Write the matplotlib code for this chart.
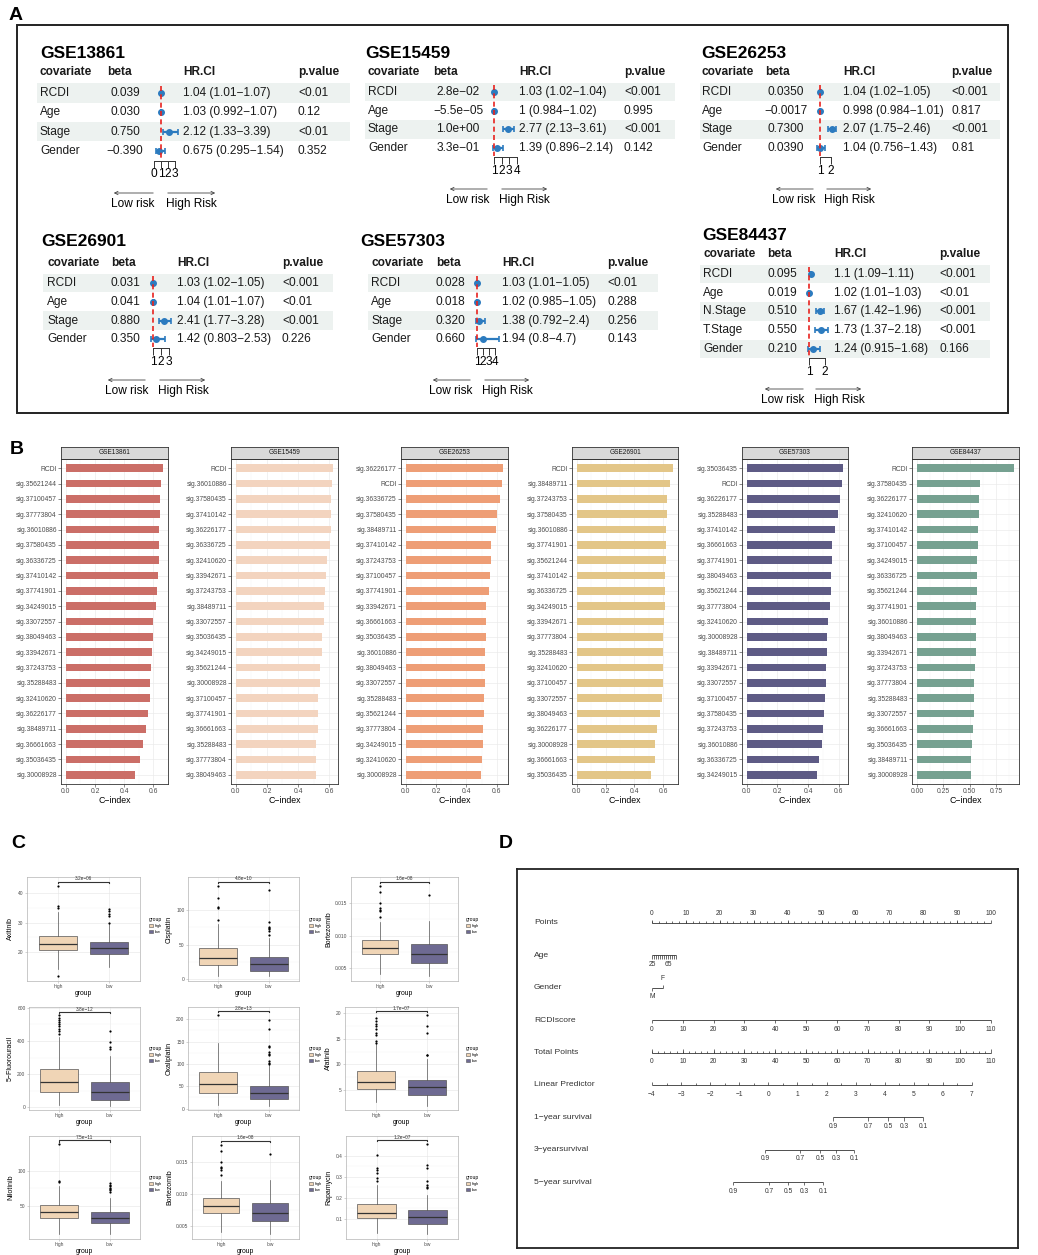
import numpy as np
import matplotlib.pyplot as plt
from matplotlib.patches import Rectangle, Patch, FancyArrowPatch

plt.rcParams['font.family'] = ['Liberation Sans', 'DejaVu Sans']

# ---------------- Panel A: Cox multivariado por cohorte ----------------
cov_13861 = ["RCDI", "Age", "Stage", "Gender"]
beta_13861 = ["0.039", "0.030", "0.750", "−0.390"]
hr_13861 = [1.04, 1.03, 2.12, 0.675]
lo_13861 = [1.01, 0.992, 1.33, 0.295]
hi_13861 = [1.07, 1.07, 3.39, 1.54]
p_13861 = ["<0.01", "0.12", "<0.01", "0.352"]
ticks_13861 = [0, 1, 2, 3]

cov_15459 = ["RCDI", "Age", "Stage", "Gender"]
beta_15459 = ["2.8e−02", "−5.5e−05", "1.0e+00", "3.3e−01"]
hr_15459 = [1.03, 1, 2.77, 1.39]
lo_15459 = [1.02, 0.984, 2.13, 0.896]
hi_15459 = [1.04, 1.02, 3.61, 2.14]
p_15459 = ["<0.001", "0.995", "<0.001", "0.142"]
ticks_15459 = [1, 2, 3, 4]

cov_26253 = ["RCDI", "Age", "Stage", "Gender"]
beta_26253 = ["0.0350", "−0.0017", "0.7300", "0.0390"]
hr_26253 = [1.04, 0.998, 2.07, 1.04]
lo_26253 = [1.02, 0.984, 1.75, 0.756]
hi_26253 = [1.05, 1.01, 2.46, 1.43]
p_26253 = ["<0.001", "0.817", "<0.001", "0.81"]
ticks_26253 = [1, 2]

cov_26901 = ["RCDI", "Age", "Stage", "Gender"]
beta_26901 = ["0.031", "0.041", "0.880", "0.350"]
hr_26901 = [1.03, 1.04, 2.41, 1.42]
lo_26901 = [1.02, 1.01, 1.77, 0.803]
hi_26901 = [1.05, 1.07, 3.28, 2.53]
p_26901 = ["<0.001", "<0.01", "<0.001", "0.226"]
ticks_26901 = [1, 2, 3]

cov_57303 = ["RCDI", "Age", "Stage", "Gender"]
beta_57303 = ["0.028", "0.018", "0.320", "0.660"]
hr_57303 = [1.03, 1.02, 1.38, 1.94]
lo_57303 = [1.01, 0.985, 0.792, 0.8]
hi_57303 = [1.05, 1.05, 2.4, 4.7]
p_57303 = ["<0.01", "0.288", "0.256", "0.143"]
ticks_57303 = [1, 2, 3, 4]

cov_84437 = ["RCDI", "Age", "N.Stage", "T.Stage", "Gender"]
beta_84437 = ["0.095", "0.019", "0.510", "0.550", "0.210"]
hr_84437 = [1.1, 1.02, 1.67, 1.73, 1.24]
lo_84437 = [1.09, 1.01, 1.42, 1.37, 0.915]
hi_84437 = [1.11, 1.03, 1.96, 2.18, 1.68]
p_84437 = ["<0.001", "<0.01", "<0.001", "<0.001", "0.166"]
ticks_84437 = [1, 2]

# ---------------- Panel B: C-index por cohorte ----------------
etq_b1 = ["RCDI", "sig.35621244", "sig.37100457", "sig.37773804", "sig.36010886", "sig.37580435",
          "sig.36336725", "sig.37410142", "sig.37741901", "sig.34249015", "sig.33072557", "sig.38049463",
          "sig.33942671", "sig.37243753", "sig.35288483", "sig.32410620", "sig.36226177", "sig.38489711",
          "sig.36661663", "sig.35036435", "sig.30008928"]
cidx_b1 = [0.668, 0.653, 0.648, 0.646, 0.643, 0.639, 0.637, 0.634, 0.627, 0.618, 0.600, 0.595,
           0.591, 0.582, 0.577, 0.577, 0.561, 0.550, 0.529, 0.511, 0.472]

etq_b2 = ["RCDI", "sig.36010886", "sig.37580435", "sig.37410142", "sig.36226177", "sig.36336725",
          "sig.32410620", "sig.33942671", "sig.37243753", "sig.38489711", "sig.33072557", "sig.35036435",
          "sig.34249015", "sig.35621244", "sig.30008928", "sig.37100457", "sig.37741901", "sig.36661663",
          "sig.35288483", "sig.37773804", "sig.38049463"]
cidx_b2 = [0.626, 0.621, 0.613, 0.613, 0.613, 0.609, 0.585, 0.581, 0.572, 0.570, 0.568, 0.553,
           0.553, 0.544, 0.540, 0.531, 0.529, 0.529, 0.516, 0.516, 0.514]

etq_b3 = ["sig.36226177", "RCDI", "sig.36336725", "sig.37580435", "sig.38489711", "sig.37410142",
          "sig.37243753", "sig.37100457", "sig.37741901", "sig.33942671", "sig.36661663", "sig.35036435",
          "sig.36010886", "sig.38049463", "sig.33072557", "sig.35288483", "sig.35621244", "sig.37773804",
          "sig.34249015", "sig.32410620", "sig.30008928"]
cidx_b3 = [0.642, 0.637, 0.618, 0.604, 0.596, 0.563, 0.560, 0.554, 0.547, 0.532, 0.530, 0.527,
           0.525, 0.521, 0.519, 0.516, 0.514, 0.510, 0.508, 0.503, 0.499]

etq_b4 = ["RCDI", "sig.38489711", "sig.37243753", "sig.37580435", "sig.36010886", "sig.37741901",
          "sig.35621244", "sig.37410142", "sig.36336725", "sig.34249015", "sig.33942671", "sig.37773804",
          "sig.35288483", "sig.32410620", "sig.37100457", "sig.33072557", "sig.38049463", "sig.36226177",
          "sig.30008928", "sig.36661663", "sig.35036435"]
cidx_b4 = [0.671, 0.648, 0.630, 0.627, 0.621, 0.618, 0.618, 0.616, 0.614, 0.611, 0.609, 0.602,
           0.600, 0.600, 0.598, 0.595, 0.582, 0.561, 0.547, 0.545, 0.520]

etq_b5 = ["sig.35036435", "RCDI", "sig.36226177", "sig.35288483", "sig.37410142", "sig.36661663",
          "sig.37741901", "sig.38049463", "sig.35621244", "sig.37773804", "sig.32410620", "sig.30008928",
          "sig.38489711", "sig.33942671", "sig.33072557", "sig.37100457", "sig.37580435", "sig.37243753",
          "sig.36010886", "sig.36336725", "sig.34249015"]
cidx_b5 = [0.630, 0.622, 0.607, 0.594, 0.574, 0.557, 0.557, 0.553, 0.553, 0.542, 0.533, 0.527,
           0.525, 0.518, 0.516, 0.512, 0.507, 0.496, 0.494, 0.471, 0.460]

etq_b6 = ["RCDI", "sig.37580435", "sig.36226177", "sig.32410620", "sig.37410142", "sig.37100457",
          "sig.34249015", "sig.36336725", "sig.35621244", "sig.37741901", "sig.36010886", "sig.38049463",
          "sig.33942671", "sig.37243753", "sig.37773804", "sig.35288483", "sig.33072557", "sig.36661663",
          "sig.35036435", "sig.38489711", "sig.30008928"]
cidx_b6 = [0.919, 0.593, 0.590, 0.584, 0.580, 0.574, 0.571, 0.565, 0.565, 0.562, 0.562, 0.558,
           0.555, 0.546, 0.543, 0.543, 0.540, 0.533, 0.524, 0.511, 0.508]

cohortes = ["GSE13861", "GSE15459", "GSE26253", "GSE26901", "GSE57303", "GSE84437"]
colores_b = ["#CB6E67", "#F3D4BF", "#EE9E76", "#E3C688", "#5E5B85", "#76A191"]

# ---------------- Panel C: sensibilidad a farmacos ----------------
drogas = ["Axitinib", "Cisplatin", "Bortezomib", "5−Fluorouracil", "Oxaliplatin", "Afatinib",
          "Nilotinib", "Bortezomib", "Rapamycin"]
pvals_c = ["3.2e−06", "4.8e−10", "1.6e−08", "3.8e−12", "2.8e−13", "1.7e−07", "7.5e−11", "1.6e−08", "1.2e−07"]
alto_med = [22.9, 30.6, 0.00815, 152, 54.3, 6.62, 41.1, 0.00815, 0.130]
alto_q1 = [20.7, 20.9, 0.00708, 94, 35.7, 5.13, 32.7, 0.00708, 0.103]
alto_q3 = [25.6, 45.1, 0.00933, 228, 81.8, 8.7, 51.4, 0.00933, 0.169]
alto_wlo = [14.5, 3.9, 0.00413, 14, 8.2, 2.73, 10.7, 0.00413, 0.035]
alto_whi = [33.5, 80.6, 0.01205, 424, 147, 14.0, 78, 0.01205, 0.261]
alto_out = [[12.1, 34.8, 35.7, 42.2], [86.4, 103.4, 104.4, 118, 135],
            [0.01287, 0.0137, 0.0140, 0.01426, 0.0150, 0.01664, 0.01756],
            [444, 462, 474, 488, 500, 512, 526, 540, 554], [209],
            [14.2, 14.6, 15.8, 16.2, 17.0, 17.4, 17.8, 18.5, 19.0], [83.2, 85, 137],
            [0.01287, 0.0137, 0.0140, 0.01426, 0.0150, 0.01664, 0.01756],
            [0.280, 0.293, 0.316, 0.332, 0.340, 0.403]]
bajo_med = [21.5, 21.4, 0.00708, 94, 34.2, 5.65, 32.7, 0.00708, 0.108]
bajo_q1 = [19.4, 12.1, 0.00574, 44, 20.8, 4.03, 25.7, 0.00574, 0.076]
bajo_q3 = [23.5, 31.6, 0.00862, 154, 51.3, 6.95, 41.1, 0.00862, 0.142]
bajo_wlo = [14.9, 4.9, 0.00382, 8, 5.9, 1.95, 10.7, 0.00382, 0.027]
bajo_whi = [29.5, 59.7, 0.0122, 308, 97, 11.0, 62, 0.0122, 0.214]
bajo_out = [[29.9, 32.1, 33.0, 33.8, 34.6], [63.6, 70.4, 72.8, 74.3, 75.7, 82.5, 129], [0.0162],
            [354, 364, 394, 458], [101, 103, 107, 120, 123, 127, 137, 140, 179, 198],
            [11.75, 11.9, 16.2, 17.5, 19.6], [70, 72, 74, 76, 78, 80, 82], [0.0162],
            [0.245, 0.253, 0.261, 0.281, 0.340, 0.355, 0.453]]
corchete_c = [43.8, 141.7, 0.01826, 574, 218, 20.4, 142.5, 0.01826, 0.473]
ylim_c = [(10.3, 45.4), (-2.9, 148.5), (0.0030, 0.0190), (-16, 604), (-3, 227.5), (1.1, 21.2),
          (3.7, 148.6), (0.0030, 0.0190), (0.005, 0.493)]
yticks_c = [[20, 30, 40], [0, 50, 100], [0.005, 0.010, 0.015], [0, 200, 400, 600], [0, 50, 100, 150, 200],
            [5, 10, 15, 20], [50, 100], [0.005, 0.010, 0.015], [0.1, 0.2, 0.3, 0.4]]
grupos = ["high", "low"]
colores_c = ["#F0D5B6", "#6E6A92"]

# ---------------- Panel D: nomograma ----------------
puntos_ticks = [0, 10, 20, 30, 40, 50, 60, 70, 80, 90, 100]
edad_ticks = [25, 30, 35, 40, 45, 50, 55, 60, 65, 70, 75, 80, 85]
edad_etq = [25, 65]
edad_pts_por_anio = 0.118
genero = ["M", "F"]
genero_pts = [0, 3.2]
rcdi_ticks = [0, 10, 20, 30, 40, 50, 60, 70, 80, 90, 100, 110]
rcdi_pts_max = 100
total_ticks = [0, 10, 20, 30, 40, 50, 60, 70, 80, 90, 100, 110]
lp_ticks = [-4, -3, -2, -1, 0, 1, 2, 3, 4, 5, 6, 7]
lp_total_por_unidad = 9.44
surv_probs = [0.9, 0.7, 0.5, 0.3, 0.1]
surv1_total = [58.7, 70.1, 76.6, 81.8, 87.9]
surv3_total = [36.7, 48.0, 54.5, 59.7, 65.5]
surv5_total = [26.3, 38.0, 44.1, 49.3, 55.5]

# ---------------- Figura ----------------
W, H = 1038, 1255
fig = plt.figure(figsize=(W / 100, H / 100), dpi=100)


def fx(x):
    return x / W


def fy(y):
    return 1 - y / H


def caja(x0, y0, x1, y1):
    """Rectangulo en pixeles (origen arriba a la izquierda) a fraccion de figura."""
    return [x0 / W, 1 - y1 / H, (x1 - x0) / W, (y1 - y0) / H]


def letra(x, y, s):
    fig.text(fx(x), fy(y), s, fontsize=14, fontweight="bold", ha="center", va="center")


# ---------------- Panel A ----------------
letra(16, 16, "A")
fig.add_artist(Rectangle((fx(17), fy(413)), (1008 - 17) / W, (413 - 25) / H, transform=fig.transFigure,
                         fill=False, lw=1.4, ec="#222222"))

disenos_a = [
    dict(tit=(40, 54), hdr=72, row1=93, sp=19.3, cov=40, bc=125, bh=107, hrx=183, px=298, band=(37, 350),
         ref=161, ppu=7, axy=160.5, ay=193, izq=(156, 111), der=(165, 218), ly=204, lc=133, hc=191),
    dict(tit=(365, 53), hdr=72, row1=92, sp=18.7, cov=368, bc=458, bh=433, hrx=519, px=624, band=(365, 675),
         ref=494, ppu=7.67, axy=157, ay=189, izq=(490, 447), der=(499, 550), ly=200, lc=468, hc=524),
    dict(tit=(701, 53), hdr=72, row1=92, sp=18.7, cov=702, bc=786, bh=765, hrx=843, px=951, band=(700, 1000),
         ref=820, ppu=11, axy=157, ay=189, izq=(816, 773), der=(824, 874), ly=200, lc=794, hc=849),
    dict(tit=(41, 242), hdr=263, row1=283, sp=18.8, cov=47, bc=125, bh=111, hrx=177, px=282, band=(43, 333),
         ref=153, ppu=8, axy=348, ay=380, izq=(148, 105), der=(157, 208), ly=391, lc=127, hc=183),
    dict(tit=(360, 242), hdr=263, row1=283, sp=18.8, cov=371, bc=450, bh=436, hrx=502, px=607, band=(368, 658),
         ref=477, ppu=6, axy=348, ay=380, izq=(473, 430), der=(482, 532), ly=391, lc=451, hc=507),
    dict(tit=(702, 235), hdr=254, row1=274, sp=18.75, cov=703, bc=782, bh=767, hrx=834, px=939, band=(700, 990),
         ref=809, ppu=16, axy=358, ay=389, izq=(806, 762), der=(813, 864), ly=400, lc=783, hc=839),
]
datos_a = [
    (cov_13861, beta_13861, hr_13861, lo_13861, hi_13861, p_13861, ticks_13861),
    (cov_15459, beta_15459, hr_15459, lo_15459, hi_15459, p_15459, ticks_15459),
    (cov_26253, beta_26253, hr_26253, lo_26253, hi_26253, p_26253, ticks_26253),
    (cov_26901, beta_26901, hr_26901, lo_26901, hi_26901, p_26901, ticks_26901),
    (cov_57303, beta_57303, hr_57303, lo_57303, hi_57303, p_57303, ticks_57303),
    (cov_84437, beta_84437, hr_84437, lo_84437, hi_84437, p_84437, ticks_84437),
]
titulos_a = ["GSE13861", "GSE15459", "GSE26253", "GSE26901", "GSE57303", "GSE84437"]

for titulo, d, (cov, beta, hr, lo, hi, pv, ticks) in zip(titulos_a, disenos_a, datos_a):
    n = len(cov)
    top_px = d["row1"] - 0.6 * d["sp"]
    bot_px = d["axy"]
    ylim = ((bot_px - d["row1"]) / d["sp"], -0.6)

    # tabla de texto con bandas alternadas
    axt = fig.add_axes(caja(d["band"][0], top_px, d["band"][1], bot_px))
    axt.set_xlim(d["band"])
    axt.set_ylim(ylim)
    axt.axis("off")
    for i in range(0, n, 2):
        axt.axhspan(i - 0.5, i + 0.5, color="#EDF2F0", lw=0, zorder=0)
    yh = (d["hdr"] - d["row1"]) / d["sp"]
    for x, s in [(d["cov"], "covariate"), (d["bh"], "beta"), (d["hrx"], "HR.CI"), (d["px"], "p.value")]:
        axt.text(x, yh, s, fontsize=8.6, fontweight="bold", va="center", color="#1a1a1a")
    for i in range(n):
        axt.text(d["cov"], i, cov[i], fontsize=8.6, va="center", color="#1a1a1a")
        axt.text(d["bc"], i, beta[i], fontsize=8.6, va="center", ha="center", color="#1a1a1a")
        axt.text(d["hrx"], i, f"{hr[i]:g} ({lo[i]:g}−{hi[i]:g})", fontsize=8.6, va="center", color="#1a1a1a")
        axt.text(d["px"], i, pv[i], fontsize=8.6, va="center", color="#1a1a1a")
    fig.text(fx(d["tit"][0]), fy(d["tit"][1]), titulo, fontsize=12.5, fontweight="bold", va="center")

    # forest plot en escala HR
    xl = min(ticks[0], min(lo)) - 0.4
    xr = max(ticks[-1], max(hi)) + 0.4
    axf = fig.add_axes(caja(d["ref"] + (xl - 1) * d["ppu"], top_px, d["ref"] + (xr - 1) * d["ppu"], bot_px))
    axf.patch.set_alpha(0)
    axf.set_xlim(xl, xr)
    axf.set_ylim(ylim)
    filas = np.arange(n)
    hr_a = np.array(hr)
    axf.errorbar(hr_a, filas, xerr=[hr_a - np.array(lo), np.array(hi) - hr_a], fmt="o", ms=4.0,
                 color="#2C7BBF", ecolor="#2C7BBF", elinewidth=1.6, capsize=2, capthick=1.2, zorder=3)
    axf.vlines(1, -0.35, ylim[0] - 0.05, colors="#E8231F", linestyles=(0, (3, 2)), lw=1.2, zorder=5)
    for s in ["top", "left", "right"]:
        axf.spines[s].set_visible(False)
    axf.spines["bottom"].set_bounds(ticks[0], ticks[-1])
    axf.spines["bottom"].set_color("#333333")
    axf.spines["bottom"].set_linewidth(0.7)
    axf.set_yticks([])
    axf.set_xticks(ticks)
    axf.set_xticklabels([str(t) for t in ticks])
    axf.tick_params(axis="x", length=5, width=0.7, color="#333333", labelsize=8.6, pad=0.5)

    # flechas de riesgo
    for (xa, xb) in [d["izq"], d["der"]]:
        fig.add_artist(FancyArrowPatch((fx(xa), fy(d["ay"])), (fx(xb), fy(d["ay"])), transform=fig.transFigure,
                                       arrowstyle="->", mutation_scale=6, lw=0.6, color="#444444"))
    fig.text(fx(d["lc"]), fy(d["ly"]), "Low risk", fontsize=8.6, ha="center", va="center")
    fig.text(fx(d["hc"]), fy(d["ly"]), "High Risk", fontsize=8.6, ha="center", va="center")

# ---------------- Panel B ----------------
letra(17, 450, "B")
bordes_b = [(61, 168), (231, 338), (401, 508), (572, 678), (742, 848), (912, 1019)]
etiquetas_b = [etq_b1, etq_b2, etq_b3, etq_b4, etq_b5, etq_b6]
valores_b = [cidx_b1, cidx_b2, cidx_b3, cidx_b4, cidx_b5, cidx_b6]

for k in range(6):
    x0, x1 = bordes_b[k]
    vals = valores_b[k]
    n = len(vals)
    ax = fig.add_axes(caja(x0, 459, x1, 784))
    y = np.arange(n)
    ax.barh(y, vals, height=0.5, color=colores_b[k], zorder=2)
    vmax = max(vals)
    ax.set_xlim(-0.05 * vmax, 1.05 * vmax)
    ax.set_ylim(n - 1 + 0.6, -0.6)
    ax.set_yticks(y)
    ax.set_yticklabels(etiquetas_b[k], fontsize=4.9, color="#4D4D4D")
    if k < 5:
        mayores = [0, 0.2, 0.4, 0.6]
        ax.set_xticks(mayores)
        ax.set_xticklabels(["0.0", "0.2", "0.4", "0.6"], fontsize=4.9, color="#4D4D4D")
        ax.set_xticks([0.1, 0.3, 0.5], minor=True)
    else:
        mayores = [0, 0.25, 0.5, 0.75]
        ax.set_xticks(mayores)
        ax.set_xticklabels(["0.00", "0.25", "0.50", "0.75"], fontsize=4.9, color="#4D4D4D")
        ax.set_xticks([0.125, 0.375, 0.625, 0.875], minor=True)
    ax.set_axisbelow(True)
    ax.grid(which="major", color="#EBEBEB", lw=0.5)
    ax.grid(which="minor", axis="x", color="#F4F4F4", lw=0.35)
    ax.tick_params(which="minor", length=0)
    ax.tick_params(which="major", length=2, width=0.4, color="#333333", pad=1)
    for s in ax.spines.values():
        s.set_color("#333333")
        s.set_linewidth(0.6)
    ax.set_xlabel("C−index", fontsize=6.3, labelpad=0.5)

    axs = fig.add_axes(caja(x0, 447, x1, 459))
    axs.set_facecolor("#D9D9D9")
    axs.set_xticks([])
    axs.set_yticks([])
    for s in axs.spines.values():
        s.set_color("#333333")
        s.set_linewidth(0.6)
    axs.text(0.5, 0.5, cohortes[k], fontsize=4.7, ha="center", va="center", color="#1A1A1A",
             transform=axs.transAxes)

# ---------------- Panel C ----------------
letra(18, 843, "C")
cajas_c = [(27, 877, 140, 981), (188, 877, 299, 981), (351, 877, 458, 981),
           (29, 1007, 140, 1110), (188, 1007, 299, 1110), (345, 1007, 458, 1110),
           (29, 1136, 140, 1239), (192, 1136, 299, 1239), (346, 1136, 458, 1239)]
ylab_x = [14, 173, 332]
leyenda_x = [147, 307, 464]
leyenda_y = [915, 1044, 1173]

for k in range(9):
    x0, y0, x1, y1 = cajas_c[k]
    ax = fig.add_axes(caja(x0, y0, x1, y1))
    stats = [
        dict(med=alto_med[k], q1=alto_q1[k], q3=alto_q3[k], whislo=alto_wlo[k], whishi=alto_whi[k],
             fliers=alto_out[k], label="high"),
        dict(med=bajo_med[k], q1=bajo_q1[k], q3=bajo_q3[k], whislo=bajo_wlo[k], whishi=bajo_whi[k],
             fliers=bajo_out[k], label="low"),
    ]
    res = ax.bxp(stats, positions=[1, 2], widths=0.75, patch_artist=True, showcaps=False,
                 boxprops=dict(lw=0.5, edgecolor="#555555"),
                 whiskerprops=dict(lw=0.5, color="#555555"),
                 medianprops=dict(lw=0.9, color="#333333"),
                 flierprops=dict(marker="o", ms=1.6, mfc="black", mec="none"))
    for caja_art, col in zip(res["boxes"], colores_c):
        caja_art.set_facecolor(col)
    ax.set_xlim(0.4, 2.6)
    ax.set_ylim(ylim_c[k])
    yt = yticks_c[k]
    ax.set_yticks(yt)
    if max(yt) < 0.05:
        ax.set_yticklabels([f"{v:.3f}" for v in yt])
    else:
        ax.set_yticklabels([f"{v:g}" for v in yt])
    ax.set_yticks([(a + b) / 2 for a, b in zip(yt[:-1], yt[1:])], minor=True)
    ax.set_xticks([1, 2])
    ax.set_xticklabels(grupos)
    ax.tick_params(labelsize=3.5, labelcolor="#4D4D4D", length=1.5, width=0.4, color="#B3B3B3", pad=1)
    ax.tick_params(which="minor", length=0)
    ax.set_axisbelow(True)
    ax.grid(which="major", color="#E5E5E5", lw=0.4)
    ax.grid(which="minor", axis="y", color="#F2F2F2", lw=0.3)
    for s in ax.spines.values():
        s.set_color("#B3B3B3")
        s.set_linewidth(0.5)
    ax.set_ylabel(drogas[k], fontsize=5)
    ax.yaxis.set_label_coords((ylab_x[k % 3] - x0) / (x1 - x0), 0.5)
    ax.set_xlabel("group", fontsize=4.9, labelpad=0.5)
    # corchete de significancia
    yb = corchete_c[k]
    d_y = 0.012 * (ylim_c[k][1] - ylim_c[k][0])
    ax.plot([1, 1, 2, 2], [yb - d_y, yb, yb, yb - d_y], color="#333333", lw=0.8)
    ax.text(1.5, yb + d_y * 0.3, pvals_c[k], fontsize=3.4, ha="center", va="bottom", color="#333333")
    # leyenda
    manejadores = [Patch(facecolor=c, edgecolor="#555555", lw=0.4) for c in colores_c]
    ax.legend(manejadores, grupos, title="group", loc="upper left", frameon=False, fontsize=2.8,
              title_fontsize=3.6, handlelength=1.1, handleheight=1.0, borderpad=0, labelspacing=0.5,
              handletextpad=0.5, alignment="left",
              bbox_to_anchor=(fx(leyenda_x[k % 3]), fy(leyenda_y[k // 3])), bbox_transform=fig.transFigure)

# ---------------- Panel D ----------------
fig.text(fx(506), fy(843), "D", fontsize=14, fontweight="bold", ha="center", va="center")
ppp = 3.39      # pixeles por punto
fila_sp = 32.4  # pixeles entre filas
axn = fig.add_axes(caja(517, 869, 1018, 1248))
axn.set_xlim((517 - 652) / ppp, (1018 - 652) / ppp)
axn.set_ylim((1248 - 923) / fila_sp, (869 - 923) / fila_sp)
axn.set_xticks([])
axn.set_yticks([])
for s in axn.spines.values():
    s.set_linewidth(1.3)
    s.set_color("#222222")

col_n = "#333333"
t_may = 0.1
t_men = 0.055
off = 0.28
fs_t = 4.8


def linea(fila, xa, xb):
    axn.hlines(fila, xa, xb, color=col_n, lw=0.6)


def marcas(fila, xs, largo, arriba=True):
    signo = -1 if arriba else 1
    axn.vlines(xs, fila, fila + signo * largo, color=col_n, lw=0.5)


def etiquetas(fila, xs, textos, arriba=False):
    for x, t in zip(xs, textos):
        axn.text(x, fila + (-off if arriba else off), t, fontsize=fs_t, ha="center", va="center", color=col_n)


nombres_filas = ["Points", "Age", "Gender", "RCDIscore", "Total Points", "Linear Predictor",
                 "1−year survival", "3−yearsurvival", "5−year survival"]
for i, nom in enumerate(nombres_filas):
    axn.text((534 - 652) / ppp, i, nom, fontsize=6.1, va="center", ha="left", color=col_n)

# Points
linea(0, puntos_ticks[0], puntos_ticks[-1])
marcas(0, puntos_ticks, t_may)
marcas(0, np.arange(puntos_ticks[0], puntos_ticks[-1], 2), t_men)
etiquetas(0, puntos_ticks, [str(v) for v in puntos_ticks], arriba=True)

# Age
edad_x = [(a - edad_ticks[0]) * edad_pts_por_anio for a in edad_ticks]
linea(1, edad_x[0], edad_x[-1])
marcas(1, edad_x, t_may, arriba=False)
etiquetas(1, [(a - edad_ticks[0]) * edad_pts_por_anio for a in edad_etq], [str(a) for a in edad_etq])

# Gender
linea(2, genero_pts[0], genero_pts[1])
marcas(2, [genero_pts[0]], t_may, arriba=False)
marcas(2, [genero_pts[1]], t_may, arriba=True)
etiquetas(2, [genero_pts[0]], [genero[0]])
etiquetas(2, [genero_pts[1]], [genero[1]], arriba=True)

# RCDIscore
rcdi_x = [v * rcdi_pts_max / rcdi_ticks[-1] for v in rcdi_ticks]
linea(3, rcdi_x[0], rcdi_x[-1])
marcas(3, rcdi_x, t_may, arriba=False)
etiquetas(3, rcdi_x, [str(v) for v in rcdi_ticks])

# Total Points (110 puntos totales ocupan la misma longitud que 100 puntos)
esc_total = puntos_ticks[-1] / total_ticks[-1]
total_x = [v * esc_total for v in total_ticks]
linea(4, total_x[0], total_x[-1])
marcas(4, total_x, t_may)
marcas(4, [v * esc_total for v in np.arange(total_ticks[0], total_ticks[-1], 2)], t_men)
etiquetas(4, total_x, [str(v) for v in total_ticks])

# Linear Predictor
lp_x = [(v - lp_ticks[0]) * lp_total_por_unidad * esc_total for v in lp_ticks]
linea(5, lp_x[0], lp_x[-1])
marcas(5, lp_x, t_may)
marcas(5, [(v + 0.5 - lp_ticks[0]) * lp_total_por_unidad * esc_total for v in lp_ticks[:-1]], t_men)
etiquetas(5, lp_x, [str(v).replace("-", "−") for v in lp_ticks])

# Supervivencia
for fila, tot in [(6, surv1_total), (7, surv3_total), (8, surv5_total)]:
    sx = [v * esc_total for v in tot]
    linea(fila, min(sx), max(sx))
    marcas(fila, sx, t_may, arriba=False)
    etiquetas(fila, sx, [f"{p:g}" for p in surv_probs])

fig.savefig("out.png", dpi=100)
